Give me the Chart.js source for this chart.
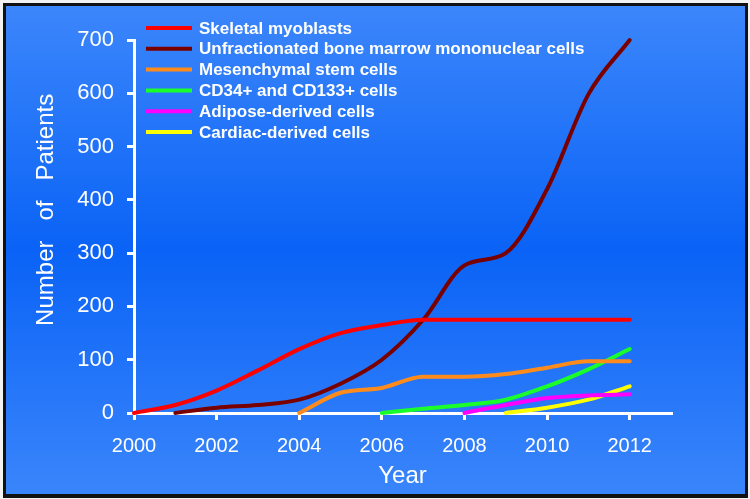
<!DOCTYPE html>
<html>
<head>
<meta charset="utf-8">
<script src="https://cdn.jsdelivr.net/npm/chart.js@4/dist/chart.umd.min.js"></script>
<style>
  html, body { margin: 0; padding: 0; background: #ffffff; }
  #wrap { width: 750px; height: 499px; }
</style>
</head>
<body>
<div id="wrap"><canvas id="patientsChart" width="750" height="499"></canvas></div>
<script>
const years = [2000, 2001, 2002, 2003, 2004, 2005, 2006, 2007, 2008, 2009, 2010, 2011, 2012];

const skeletalMyoblasts = [0, 15, 42, 80, 120, 150, 165, 175, 175, 175, 175, 175, 175];
const boneMarrowCells = [null, 0, 10, 15, 25, 55, 100, 175, 277, 300, 420, 598, 700];
const mesenchymalCells = [null, null, null, null, 0, 38, 47, 68, 68, 73, 85, 97, 97];
const cd34Cells = [null, null, null, null, null, null, 0, 8, 15, 25, 50, 82, 120];
const adiposeCells = [null, null, null, null, null, null, null, null, 0, 15, 28, 33, 35];
const cardiacCells = [null, null, null, null, null, null, null, null, null, 0, 10, 25, 50];

const seriesNames = [
    "Skeletal myoblasts",
    "Unfractionated bone marrow mononuclear cells",
    "Mesenchymal stem cells",
    "CD34+ and CD133+ cells",
    "Adipose-derived cells",
    "Cardiac-derived cells",
];
const seriesColors = ["#ff0000", "#7a0000", "#ff8c1a", "#1aff2a", "#ff00ff", "#ffff00"];
const seriesValues = [skeletalMyoblasts, boneMarrowCells, mesenchymalCells, cd34Cells, adiposeCells, cardiacCells];

const yTicks = [0, 100, 200, 300, 400, 500, 600, 700];
const xTicks = [2000, 2002, 2004, 2006, 2008, 2010, 2012];

function toPoints(values) {
    const points = [];
    values.forEach((value, idx) => {
        if (value === null) return;
        points.push({ x: years[idx], y: value });
    });
    return points;
}

const datasets = seriesNames.map((name, idx) => ({
    label: name,
    data: toPoints(seriesValues[idx]),
    borderColor: seriesColors[idx],
    backgroundColor: seriesColors[idx],
    borderWidth: 4,
    pointRadius: 0,
    cubicInterpolationMode: "monotone",
    borderCapStyle: "round",
    clip: false,
}));

// blue panel with dark frame
const backdropPlugin = {
    id: "backdrop",
    beforeDraw(chart) {
        const { ctx, width, height } = chart;
        ctx.save();
        ctx.fillStyle = "#f2f2f2";
        ctx.fillRect(0, 0, width, height);
        ctx.fillStyle = "#111111";
        ctx.fillRect(3, 3, 745, 495);
        const grad = ctx.createLinearGradient(0, 6, 0, 494);
        grad.addColorStop(0, "#3c86fb");
        grad.addColorStop(0.5, "#0a63f6");
        grad.addColorStop(1, "#3a85fb");
        ctx.fillStyle = grad;
        ctx.fillRect(6, 6, 739, 488);
        ctx.restore();
    },
};

// legend drawn in the top left of the plot
const legendPlugin = {
    id: "lineLegend",
    afterDraw(chart) {
        const { ctx } = chart;
        ctx.save();
        ctx.font = "bold 17px 'Liberation Sans', Arial, sans-serif";
        ctx.textBaseline = "middle";
        ctx.textAlign = "left";
        chart.data.datasets.forEach((dataset, idx) => {
            const y = 28 + idx * 20.8;
            ctx.strokeStyle = dataset.borderColor;
            ctx.lineWidth = 4;
            ctx.beginPath();
            ctx.moveTo(146, y);
            ctx.lineTo(192, y);
            ctx.stroke();
            ctx.fillStyle = "#ffffff";
            ctx.fillText(dataset.label, 199, y + 1);
        });
        ctx.restore();
    },
};

new Chart(document.getElementById("patientsChart"), {
    type: "line",
    data: { datasets },
    options: {
        responsive: false,
        animation: false,
        layout: { padding: { left: 0, top: 40, right: 79, bottom: 0 } },
        plugins: {
            legend: { display: false },
            tooltip: { enabled: false },
        },
        scales: {
            x: {
                type: "linear",
                min: 2000,
                max: 2013,
                afterFit(scale) { scale.height = 86; },
                afterBuildTicks(scale) { scale.ticks = xTicks.map((value) => ({ value })); },
                border: { display: true, color: "#ffffff", width: 3 },
                grid: { drawOnChartArea: false, drawTicks: true, tickLength: 7, color: "#ffffff", lineWidth: 3 },
                ticks: {
                    color: "#ffffff",
                    padding: 14,
                    font: { family: "'Liberation Sans', Arial, sans-serif", size: 20 },
                    callback: (value) => String(value),
                },
                title: {
                    display: true,
                    text: "Year",
                    color: "#ffffff",
                    font: { family: "'Liberation Sans', Arial, sans-serif", size: 24 },
                    padding: { top: 0, bottom: 8 },
                },
            },
            y: {
                min: 0,
                max: 700,
                afterFit(scale) { scale.width = 134; },
                afterBuildTicks(scale) { scale.ticks = yTicks.map((value) => ({ value })); },
                border: { display: true, color: "#ffffff", width: 3 },
                grid: { drawOnChartArea: false, drawTicks: true, tickLength: 7, color: "#ffffff", lineWidth: 3 },
                ticks: {
                    color: "#ffffff",
                    padding: 13,
                    font: { family: "'Liberation Sans', Arial, sans-serif", size: 22 },
                },
                title: {
                    display: true,
                    text: "     Number   of   Patients",
                    color: "#ffffff",
                    font: { family: "'Liberation Sans', Arial, sans-serif", size: 24 },
                    padding: { top: 32, bottom: 0 },
                },
            },
        },
    },
    plugins: [backdropPlugin, legendPlugin],
});
</script>
</body>
</html>
